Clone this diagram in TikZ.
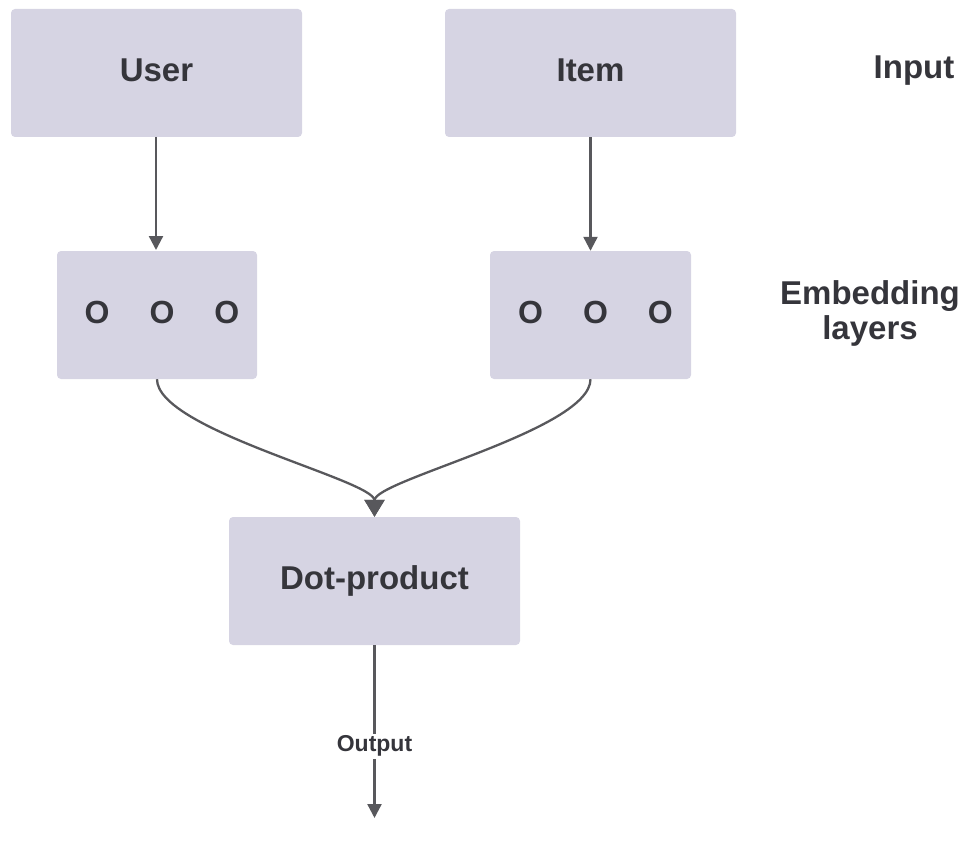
\documentclass[tikz,border=0pt]{standalone}
\usepackage{fontspec}
\setmainfont{Liberation Sans}
\usetikzlibrary{arrows.meta}
\definecolor{boxfill}{HTML}{D6D4E3}
\definecolor{txt}{HTML}{35353B}
\definecolor{lineg}{HTML}{58585C}
\tikzset{
  box/.style={draw=none, fill=boxfill, rounded corners=4pt, inner sep=0pt,
    text=txt, font=\fontsize{33}{38}\selectfont\bfseries, align=center, text depth=6pt},
  lbl/.style={inner sep=0pt, text=txt, font=\fontsize{33}{38}\selectfont\bfseries, align=center},
  conn/.style={draw=lineg, line width=2.3pt, -{Triangle[width=14pt,length=14pt]}},
  mergeconn/.style={draw=lineg, line width=2.3pt, -{Triangle[width=20pt,length=17pt]}},
  smalllbl/.style={fill=white, inner sep=2pt, text=txt, font=\fontsize{23}{26}\selectfont\bfseries}
}
\begin{document}
\begin{tikzpicture}[x=1pt,y=-1pt]
\useasboundingbox (0,0) rectangle (966,848);
\node[box, minimum width=291pt, minimum height=128pt] (user) at (156.5,73) {User};
\node[box, minimum width=291pt, minimum height=128pt] (item) at (590.5,73) {Item};
\node[box, minimum width=200pt, minimum height=128pt] (embL) at (157,315)
  {\fontsize{32}{36}\selectfont\hspace*{10pt}O\hspace{40pt}O\hspace{40pt}O};
\node[box, minimum width=201pt, minimum height=128pt] (embR) at (590.5,315)
  {\fontsize{32}{36}\selectfont\hspace*{10pt}O\hspace{40pt}O\hspace{40pt}O};
\node[box, minimum width=291pt, minimum height=128pt] (dot) at (374.5,581) {Dot-product};
\node[lbl] (input) at (914,71) {Input};
\node[lbl, text width=200pt, font=\fontsize{33}{35}\selectfont\bfseries] (emblbl) at (870,313) {Embedding\\layers};
\coordinate (out) at (374.5,818);

\draw[conn] (156,137) -- (156,250);
\draw[conn] (item.south) -- (embR.north);
\draw[mergeconn] (embL.south) .. controls (157,430) and (374.5,480) .. (dot.north);
\draw[mergeconn] (embR.south) .. controls (590.5,430) and (374.5,480) .. (dot.north);
\draw[conn] (dot.south) -- node[smalllbl, pos=0.584] {Output} (out);
\end{tikzpicture}
\end{document}
